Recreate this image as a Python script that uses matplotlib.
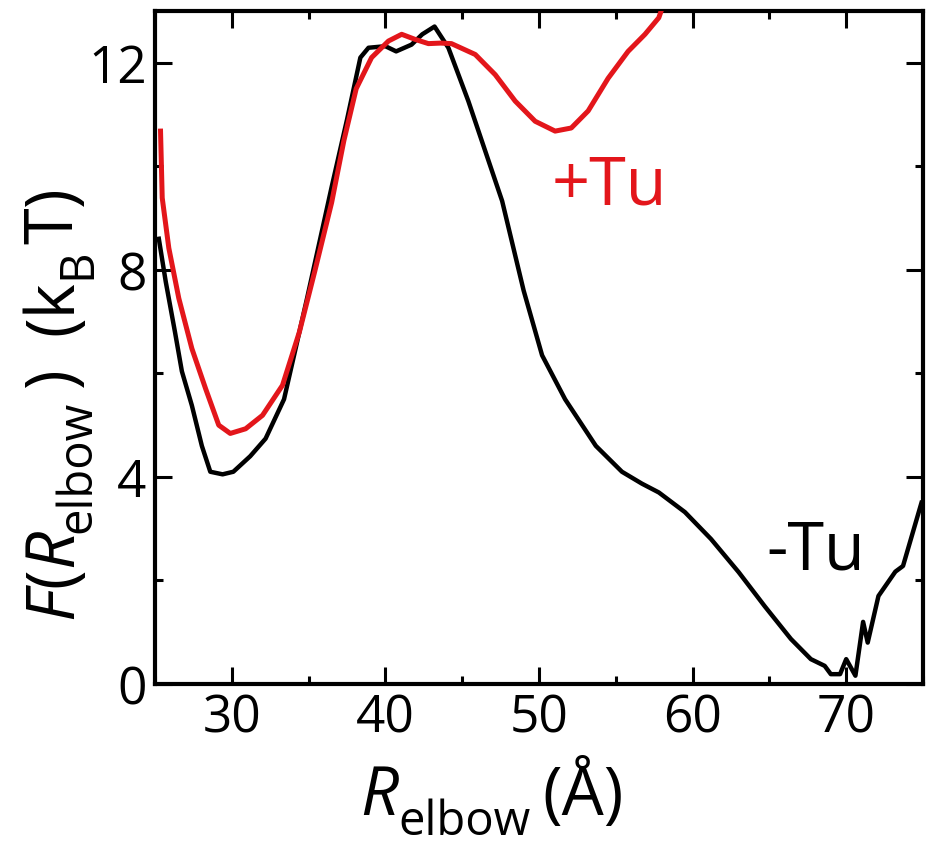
import matplotlib
matplotlib.use("Agg")
import matplotlib.pyplot as plt
from matplotlib.ticker import MultipleLocator
from matplotlib.transforms import IdentityTransform

plt.rcParams['font.family'] = ['Open Sans', 'DejaVu Sans']

# -Tu (black) free energy profile
x_minus = [25.25, 25.7, 26.3, 26.75, 27.4, 28.05, 28.6, 29.4, 30.1, 31.2, 32.2, 33.4, 34.9, 36.5,
           37.5, 38.37, 38.9, 40.0, 40.7, 41.7, 42.4, 43.2, 44.1, 45.4, 47.6, 49.0, 50.2, 51.7,
           53.7, 55.4, 56.7, 57.8, 59.5, 61.2, 63.0, 64.7, 66.4, 67.7, 68.6, 69.0, 69.6, 70.0,
           70.6, 71.1, 71.4, 72.1, 73.2, 73.7, 74.9]
y_minus = [8.6, 7.77, 6.8, 6.04, 5.38, 4.6, 4.1, 4.05, 4.1, 4.4, 4.74, 5.5, 7.45, 9.6,
           10.9, 12.1, 12.29, 12.32, 12.22, 12.35, 12.55, 12.7, 12.29, 11.26, 9.33, 7.6, 6.35, 5.5,
           4.6, 4.1, 3.87, 3.7, 3.32, 2.8, 2.16, 1.5, 0.87, 0.48, 0.35, 0.19, 0.19, 0.48,
           0.16, 1.2, 0.8, 1.7, 2.17, 2.28, 3.5]

# +Tu (red) free energy profile
x_plus = [25.36, 25.47, 25.9, 26.55, 27.4, 28.3, 29.15, 29.9, 30.9, 32.0, 33.3, 34.4, 35.4, 36.5,
          37.3, 38.1, 39.1, 40.2, 41.06, 41.95, 42.8, 43.6, 44.3, 45.85, 47.15, 48.45, 49.75,
          51.05, 52.1, 53.2, 54.5, 55.8, 56.9, 57.8, 58.3]
y_plus = [10.68, 9.39, 8.42, 7.45, 6.48, 5.7, 5.0, 4.84, 4.93, 5.19, 5.77, 6.8, 7.97, 9.3,
          10.5, 11.5, 12.1, 12.42, 12.55, 12.45, 12.37, 12.38, 12.37, 12.16, 11.77, 11.26, 10.87,
          10.68, 10.74, 11.07, 11.7, 12.22, 12.55, 12.87, 13.3]

x_ticks = [30, 40, 50, 60, 70]
y_ticks = [0, 4, 8, 12]
red = '#e3161b'

W, H = 930, 845
fig = plt.figure(figsize=(W / 100, H / 100), dpi=100)
ax = fig.add_axes([155/W, 1 - 685/H, (923 - 155)/W, (685 - 12)/H])

ax.plot(x_minus, y_minus, color='black', lw=3.2, solid_joinstyle='round', zorder=3)
ax.plot(x_plus, y_plus, color=red, lw=3.6, solid_joinstyle='round', zorder=4)

ax.set_xlim(25, 75)
ax.set_ylim(0, 13)
ax.set_xticks(x_ticks)
ax.set_yticks(y_ticks)
ax.xaxis.set_minor_locator(MultipleLocator(5))
ax.yaxis.set_minor_locator(MultipleLocator(2))

for s in ax.spines.values():
    s.set_linewidth(3.0)

ax.tick_params(which='both', direction='in', top=True, right=True, width=2.2, labelsize=37, pad=6)
ax.tick_params(which='major', length=12)
ax.tick_params(which='minor', length=6)

renderer = fig.canvas.get_renderer()


def compose(pieces, x0, y0, rotation):
    """Place text pieces one after another (pixel coordinates, origin bottom-left)."""
    pos = 0.0
    for txt, size, style, drop, gap in pieces:
        pos += gap
        if rotation == 0:
            x, y = x0 + pos, y0 - drop
        else:
            x, y = x0 + drop, y0 + pos
        t = fig.text(x, y, txt, fontsize=size, fontstyle=style, rotation=rotation,
                     rotation_mode='anchor', ha='left', va='baseline',
                     transform=IdentityTransform())
        bb = t.get_window_extent(renderer)
        pos += bb.width if rotation == 0 else bb.height


# x-axis label: R_elbow (Å)
compose([('R', 48, 'italic', 0, 0),
         ('elbow', 34, 'normal', 20, 0),
         ('(Å)', 48, 'normal', 0, 12)],
        360, H - 815, 0)

# y-axis label: F(R_elbow ) (k_B T)
compose([('F', 48, 'italic', 0, 0),
         ('(', 48, 'normal', 0, 0),
         ('R', 48, 'italic', 0, 0),
         ('elbow', 34, 'normal', 18, -4),
         (')', 48, 'normal', 0, 14),
         ('(k', 48, 'normal', 0, 32),
         ('B', 34, 'normal', 18, 2),
         ('T', 48, 'normal', 0, 4),
         (')', 48, 'normal', 0, 2)],
        72, H - 619, 90)

ax.text(50.8, 9.29, '+Tu', color=red, fontsize=48, ha='left', va='baseline')
ax.text(64.8, 2.23, '-Tu', color='black', fontsize=48, ha='left', va='baseline')

fig.savefig('out.png', dpi=100)
